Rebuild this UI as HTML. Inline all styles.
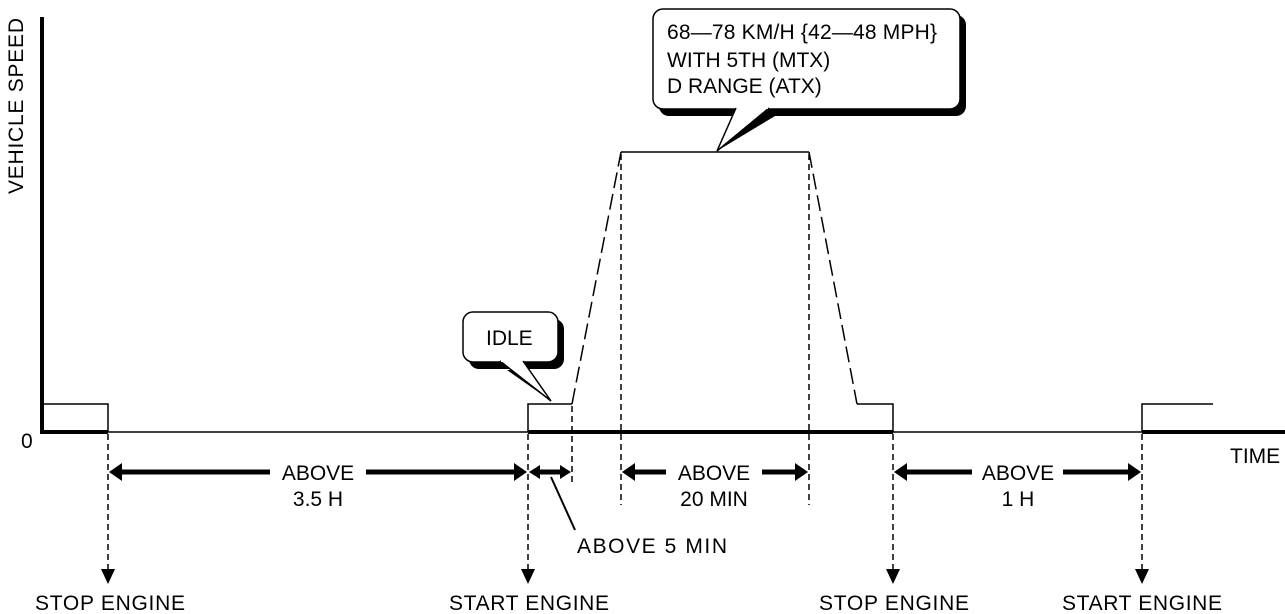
<!DOCTYPE html>
<html><head><meta charset="utf-8"><style>
html,body{margin:0;padding:0;background:#fff;}
svg{display:block;}
text{font-family:"Liberation Sans",Arial,sans-serif;font-size:21px;fill:#000;}
</style></head><body>
<svg width="1285" height="614" viewBox="0 0 1285 614" xmlns="http://www.w3.org/2000/svg">
<!-- axes -->
<line x1="42" y1="17" x2="42" y2="434" stroke="#000" stroke-width="4"/>
<line x1="40" y1="432" x2="108" y2="432" stroke="#000" stroke-width="4"/>
<line x1="108" y1="432" x2="528" y2="432" stroke="#000" stroke-width="1.5"/>
<line x1="528" y1="432" x2="893" y2="432" stroke="#000" stroke-width="4"/>
<line x1="893" y1="432" x2="1142" y2="432" stroke="#000" stroke-width="1.5"/>
<line x1="1142" y1="432" x2="1285" y2="432" stroke="#000" stroke-width="4"/>
<text transform="translate(23,106) rotate(-90)" text-anchor="middle" textLength="176">VEHICLE SPEED</text>
<text x="21" y="448">0</text>
<text x="1230" y="463">TIME</text>
<!-- speed profile -->
<g fill="none" stroke="#000" stroke-width="1.5">
<polyline points="42,404 108,404 108,432"/>
<polyline points="528,432 528,404 572,404"/>
<polyline points="621,152 809,152"/>
<polyline points="857,404 893,404 893,432"/>
<polyline points="1142,432 1142,404 1213,404"/>
<line x1="572" y1="404" x2="621" y2="152" stroke-dasharray="16,6"/>
<line x1="809" y1="152" x2="857" y2="404" stroke-dasharray="16,6"/>
</g>
<!-- dashed verticals -->
<g stroke="#000" stroke-width="1.5" stroke-dasharray="6,4" fill="none">
<line x1="108" y1="434" x2="108" y2="572"/>
<line x1="528" y1="434" x2="528" y2="572"/>
<line x1="893" y1="434" x2="893" y2="572"/>
<line x1="1142" y1="434" x2="1142" y2="572"/>
<line x1="572" y1="406" x2="572" y2="482"/>
<line x1="621" y1="154" x2="621" y2="505"/>
<line x1="809" y1="154" x2="809" y2="505"/>
</g>
<g fill="#000">
<path d="M101,569 L115,569 L108,584 Z"/>
<path d="M521,569 L535,569 L528,584 Z"/>
<path d="M886,569 L900,569 L893,584 Z"/>
<path d="M1135,569 L1149,569 L1142,584 Z"/>
</g>
<!-- dimension arrows -->
<g stroke="#000" stroke-width="5" fill="none">
<line x1="118" y1="472" x2="270" y2="472"/><line x1="366" y1="472" x2="518" y2="472"/>
<line x1="536" y1="472" x2="564" y2="472"/>
<line x1="631" y1="472" x2="666" y2="472"/><line x1="762" y1="472" x2="799" y2="472"/>
<line x1="903" y1="472" x2="972" y2="472"/><line x1="1063" y1="472" x2="1132" y2="472"/>
</g>
<g fill="#000">
<path d="M109,472 L122,463 L122,481 Z"/><path d="M527,472 L514,463 L514,481 Z"/>
<path d="M529,472 L540,465 L540,479 Z"/><path d="M571,472 L560,465 L560,479 Z"/>
<path d="M622,472 L635,463 L635,481 Z"/><path d="M808,472 L795,463 L795,481 Z"/>
<path d="M894,472 L907,463 L907,481 Z"/><path d="M1141,472 L1128,463 L1128,481 Z"/>
</g>
<text x="318" y="480" text-anchor="middle">ABOVE</text>
<text x="318" y="506" text-anchor="middle">3.5 H</text>
<text x="714" y="480" text-anchor="middle">ABOVE</text>
<text x="714" y="506" text-anchor="middle">20 MIN</text>
<text x="1018" y="480" text-anchor="middle">ABOVE</text>
<text x="1018" y="506" text-anchor="middle">1 H</text>
<line x1="551" y1="477" x2="575" y2="530" stroke="#000" stroke-width="2"/>
<text x="577" y="553" textLength="150">ABOVE 5 MIN</text>
<text x="35" y="610" textLength="150">STOP ENGINE</text>
<text x="449" y="610" textLength="160">START ENGINE</text>
<text x="819" y="610" textLength="150">STOP ENGINE</text>
<text x="1062" y="610" textLength="160">START ENGINE</text>
<!-- IDLE callout -->
<rect x="469" y="319" width="95" height="50" rx="10" fill="#000"/>
<path d="M507,370 L551,401 L520,370 Z" fill="#000"/>
<rect x="463" y="312" width="95" height="50" rx="10" fill="#fff" stroke="#000" stroke-width="1.5"/>
<path d="M500,361 L551,401 L523,361" fill="#fff" stroke="#000" stroke-width="1.5"/>
<line x1="501" y1="361" x2="522" y2="361" stroke="#fff" stroke-width="2"/>
<text x="486" y="345">IDLE</text>
<!-- big callout -->
<rect x="659" y="15" width="307" height="101" rx="10" fill="#000"/>
<path d="M741,116 L717,151 L775,116 Z" fill="#000"/>
<rect x="653" y="9" width="307" height="100" rx="10" fill="#fff" stroke="#000" stroke-width="1.5"/>
<path d="M736,108 L717,151 L769,108" fill="#fff" stroke="#000" stroke-width="1.5"/>
<line x1="737" y1="108" x2="768" y2="108" stroke="#fff" stroke-width="2"/>
<text x="667" y="39" textLength="270">68—78 KM/H {42—48 MPH}</text>
<text x="667" y="67">WITH 5TH (MTX)</text>
<text x="667" y="93">D RANGE (ATX)</text>
</svg>
</body></html>
